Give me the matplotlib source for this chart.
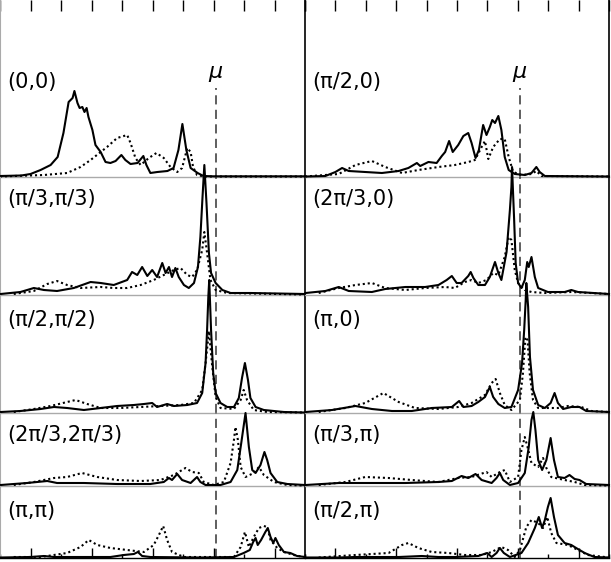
import matplotlib.pyplot as plt
from matplotlib.ticker import MultipleLocator

# spectral weight A(k, w) for ten k points
# pairs are (w, A); solid = full calculation, dotted = comparison
s_00 = [(-7.0, 1), (-6.3, 1.5), (-6.0, 3), (-5.67, 7), (-5.34, 12), (-5.11, 20), (-4.92, 44),
        (-4.75, 75), (-4.62, 79), (-4.56, 86), (-4.46, 74), (-4.39, 69), (-4.30, 70), (-4.23, 65),
        (-4.16, 69), (-4.10, 60), (-3.97, 47), (-3.87, 32), (-3.70, 25), (-3.54, 15), (-3.38, 14),
        (-3.21, 16), (-3.02, 22), (-2.89, 17), (-2.72, 13), (-2.49, 14), (-2.30, 21), (-2.20, 12),
        (-2.07, 4), (-1.84, 5), (-1.51, 6), (-1.31, 9), (-1.15, 27), (-1.02, 53), (-0.89, 27),
        (-0.75, 9), (-0.52, 4), (-0.33, 1), (0.0, 0.7), (3.0, 0.7)]
d_00 = [(-7.0, 0.5), (-5.56, 2), (-4.80, 4), (-4.36, 10), (-4.03, 17), (-3.70, 25), (-3.49, 30),
        (-3.16, 39), (-2.83, 42), (-2.72, 34), (-2.56, 19), (-2.39, 12), (-2.12, 19), (-1.87, 24),
        (-1.63, 19), (-1.41, 10), (-1.19, 5), (-1.03, 9), (-0.86, 29), (-0.75, 25), (-0.67, 10),
        (-0.54, 2), (-0.3, 0.5), (3.0, 0.5)]

s_p20 = [(-7.0, 0.5), (-6.33, 1), (-6.0, 5), (-5.78, 9), (-5.56, 6), (-5.02, 5), (-4.47, 4),
         (-3.92, 6), (-3.60, 9), (-3.32, 14), (-3.21, 11), (-2.94, 15), (-2.67, 14), (-2.50, 21),
         (-2.39, 25), (-2.26, 36), (-2.14, 25), (-1.96, 32), (-1.79, 41), (-1.63, 44), (-1.52, 34),
         (-1.39, 19), (-1.28, 27), (-1.14, 52), (-1.03, 42), (-0.92, 50), (-0.84, 57), (-0.75, 54),
         (-0.64, 61), (-0.54, 47), (-0.43, 20), (-0.30, 7), (-0.10, 3), (0.23, 2), (0.45, 4),
         (0.61, 10), (0.72, 5), (0.89, 1), (3.0, 0.5)]
d_p20 = [(-7.0, 0.5), (-5.89, 3), (-5.34, 12), (-4.80, 16), (-4.36, 10), (-3.81, 4), (-3.27, 7),
         (-2.61, 10), (-2.07, 12), (-1.63, 15), (-1.41, 17), (-1.19, 30), (-1.08, 36), (-0.97, 18),
         (-0.81, 30), (-0.59, 38), (-0.43, 38), (-0.30, 20), (-0.15, 5), (0.12, 2), (0.45, 3),
         (0.61, 6), (0.78, 1), (3.0, 0.5)]

s_p3p3 = [(-6.98, 1), (-6.33, 3), (-5.89, 7), (-5.56, 5), (-5.13, 4), (-4.58, 7), (-4.03, 13),
          (-3.70, 12), (-3.27, 10), (-2.83, 15), (-2.67, 23), (-2.50, 20), (-2.34, 28), (-2.17, 19),
          (-2.01, 25), (-1.85, 18), (-1.68, 32), (-1.57, 22), (-1.46, 28), (-1.36, 18), (-1.25, 27),
          (-1.14, 18), (-0.97, 10), (-0.81, 7), (-0.64, 12), (-0.51, 28), (-0.43, 58), (-0.36, 98),
          (-0.30, 130), (-0.23, 92), (-0.15, 42), (-0.08, 22), (0.07, 12), (0.29, 5), (0.56, 2),
          (1.21, 2), (3.0, 1)]
d_p3p3 = [(-6.55, 1), (-5.89, 4), (-5.45, 11), (-5.13, 14), (-4.80, 10), (-4.36, 7), (-3.70, 8),
          (-3.27, 7), (-2.83, 7), (-2.39, 10), (-1.96, 15), (-1.63, 20), (-1.30, 25), (-1.08, 27),
          (-0.86, 20), (-0.70, 18), (-0.54, 25), (-0.37, 45), (-0.30, 63), (-0.21, 42), (-0.10, 15),
          (0.07, 5), (0.45, 2), (3.0, 0.5)]

s_2p30 = [(-6.98, 2), (-6.33, 4), (-5.89, 8), (-5.56, 4), (-4.80, 3), (-4.36, 6), (-3.70, 8),
          (-3.05, 8), (-2.61, 10), (-2.34, 15), (-2.17, 19), (-2.01, 12), (-1.85, 12), (-1.63, 19),
          (-1.55, 23), (-1.46, 17), (-1.30, 10), (-1.08, 10), (-0.92, 18), (-0.75, 33), (-0.64, 22),
          (-0.54, 15), (-0.37, 43), (-0.26, 85), (-0.21, 108), (-0.19, 128), (-0.12, 75),
          (-0.07, 32), (0.01, 12), (0.12, 7), (0.23, 15), (0.31, 33), (0.36, 28), (0.45, 38),
          (0.56, 18), (0.67, 7), (0.99, 3), (1.54, 3), (1.76, 5), (1.98, 3), (3.0, 1)]
d_2p30 = [(-6.55, 2), (-5.89, 7), (-5.34, 10), (-4.80, 12), (-4.36, 7), (-3.70, 5), (-3.05, 7),
          (-2.39, 8), (-2.07, 7), (-1.74, 13), (-1.52, 15), (-1.30, 12), (-1.03, 15), (-0.81, 22),
          (-0.64, 20), (-0.43, 38), (-0.30, 58), (-0.21, 55), (-0.10, 25), (0.01, 12), (0.23, 5),
          (0.45, 3), (0.89, 2), (1.76, 3), (3.0, 1)]

s_p2p2 = [(-6.98, 1), (-6.33, 2), (-5.67, 4), (-5.23, 6), (-4.80, 5), (-4.25, 3), (-3.70, 5),
          (-3.16, 7), (-2.61, 8), (-2.28, 9), (-2.01, 10), (-1.85, 6), (-1.52, 9), (-1.30, 7),
          (-0.86, 8), (-0.54, 10), (-0.37, 20), (-0.26, 50), (-0.21, 83), (-0.17, 116), (-0.14, 133),
          (-0.08, 83), (-0.01, 40), (0.07, 20), (0.23, 10), (0.45, 6), (0.67, 6), (0.83, 15),
          (0.94, 36), (1.03, 50), (1.13, 33), (1.21, 15), (1.38, 6), (1.65, 3), (2.31, 1), (3.0, 0.5)]
d_p2p2 = [(-6.55, 1), (-5.89, 4), (-5.34, 7), (-4.80, 11), (-4.52, 13), (-4.14, 9), (-3.70, 5),
          (-3.05, 5), (-2.39, 6), (-1.74, 7), (-1.08, 8), (-0.64, 10), (-0.37, 23), (-0.26, 50),
          (-0.19, 70), (-0.15, 82), (-0.04, 46), (0.07, 16), (0.23, 5), (0.67, 4), (0.89, 13),
          (0.99, 23), (1.10, 13), (1.32, 3), (1.76, 1), (3.0, 0.5)]

s_p0 = [(-6.98, 1), (-6.11, 3), (-5.34, 7), (-4.80, 4), (-4.14, 2), (-3.49, 2), (-2.83, 5),
        (-2.17, 6), (-1.93, 12), (-1.79, 6), (-1.52, 7), (-1.30, 11), (-1.08, 16), (-0.92, 26),
        (-0.81, 16), (-0.64, 9), (-0.43, 5), (-0.21, 6), (0.01, 23), (0.14, 50), (0.21, 83),
        (0.26, 113), (0.28, 130), (0.34, 106), (0.40, 56), (0.50, 23), (0.67, 8), (0.89, 5),
        (1.08, 10), (1.21, 20), (1.32, 10), (1.49, 4), (1.76, 6), (2.03, 6), (2.25, 2), (3.0, 1)]
d_p0 = [(-6.55, 1), (-5.67, 5), (-5.02, 10), (-4.42, 20), (-3.92, 11), (-3.38, 5), (-2.61, 4),
        (-1.96, 6), (-1.52, 10), (-1.08, 18), (-0.86, 30), (-0.73, 34), (-0.59, 20), (-0.43, 8),
        (-0.21, 3), (0.07, 13), (0.17, 40), (0.25, 76), (0.32, 73), (0.39, 40), (0.50, 13),
        (0.67, 5), (1.10, 5), (1.32, 5), (1.65, 7), (2.09, 6), (2.42, 2), (3.0, 1)]

s_2p32p3 = [(-6.98, 1), (-6.11, 3), (-5.45, 5), (-5.13, 3), (-4.25, 3), (-3.16, 2), (-2.07, 2),
            (-1.63, 4), (-1.46, 8), (-1.36, 6), (-1.19, 12), (-1.03, 6), (-0.75, 3), (-0.54, 9),
            (-0.43, 4), (-0.26, 1), (0.23, 1), (0.56, 4), (0.78, 16), (0.91, 43), (1.05, 73),
            (1.16, 39), (1.27, 16), (1.38, 13), (1.54, 21), (1.67, 34), (1.76, 26), (1.87, 13),
            (2.09, 4), (2.42, 2), (3.0, 1)]
d_2p32p3 = [(-6.55, 1), (-5.89, 4), (-5.23, 8), (-4.80, 9), (-4.31, 13), (-3.81, 9), (-3.16, 6),
            (-2.39, 5), (-1.74, 6), (-1.30, 11), (-0.92, 18), (-0.70, 14), (-0.48, 13), (-0.32, 4),
            (0.01, 1), (0.34, 4), (0.56, 23), (0.67, 46), (0.72, 59), (0.80, 46), (0.89, 19),
            (1.05, 9), (1.32, 13), (1.49, 19), (1.65, 11), (1.98, 4), (2.42, 1), (3.0, 0.5)]

s_p3p = [(-6.98, 1), (-5.89, 3), (-4.80, 3), (-3.70, 3), (-2.61, 4), (-2.17, 5), (-1.85, 10),
         (-1.63, 8), (-1.39, 12), (-1.19, 6), (-0.86, 3), (-0.70, 8), (-0.59, 13), (-0.48, 6),
         (-0.26, 1), (0.01, 3), (0.23, 13), (0.36, 39), (0.45, 66), (0.51, 74), (0.58, 56),
         (0.67, 26), (0.80, 16), (0.94, 26), (1.08, 48), (1.19, 26), (1.32, 9), (1.54, 8),
         (1.70, 11), (1.87, 7), (2.03, 6), (2.25, 2), (3.0, 1)]
d_p3p = [(-6.55, 1), (-5.67, 4), (-5.02, 9), (-4.25, 8), (-3.49, 6), (-2.61, 4), (-1.96, 8),
         (-1.52, 9), (-1.03, 14), (-0.86, 9), (-0.59, 14), (-0.43, 16), (-0.26, 4), (0.01, 9),
         (0.12, 36), (0.23, 49), (0.32, 39), (0.45, 23), (0.67, 19), (0.83, 28), (0.94, 18),
         (1.10, 9), (1.54, 6), (1.87, 4), (2.20, 1), (3.0, 0.5)]

s_pp = [(-6.98, 0.5), (-6.0, 1), (-5.56, 2), (-5.23, 1), (-4.25, 1), (-3.38, 1), (-2.94, 3),
        (-2.61, 4), (-2.48, 6), (-2.34, 2), (-2.07, 1), (-0.43, 0.5), (0.67, 1), (0.99, 5),
        (1.19, 8), (1.30, 16), (1.38, 20), (1.45, 13), (1.56, 18), (1.70, 26), (1.78, 30),
        (1.87, 21), (1.96, 15), (2.03, 20), (2.14, 13), (2.31, 6), (2.52, 5), (2.74, 2), (3.0, 1)]
d_pp = [(-6.55, 1), (-5.67, 1), (-4.80, 5), (-4.36, 11), (-4.09, 18), (-3.81, 13), (-3.38, 10),
        (-2.83, 8), (-2.28, 6), (-1.96, 13), (-1.79, 23), (-1.65, 32), (-1.52, 18), (-1.36, 6),
        (-0.97, 1), (0.67, 1), (0.89, 11), (1.03, 26), (1.16, 11), (1.32, 21), (1.49, 30),
        (1.65, 32), (1.76, 31), (1.87, 18), (2.09, 10), (2.31, 6), (2.63, 3), (2.96, 1)]

s_p2p = [(-6.98, 0.5), (-5.89, 0.5), (-5.34, 1), (-4.80, 1), (-3.92, 1), (-3.16, 2), (-2.61, 1),
         (-2.07, 1), (-1.30, 2), (-1.01, 5), (-0.86, 1), (-0.70, 5), (-0.59, 10), (-0.46, 5),
         (-0.26, 1), (0.12, 5), (0.34, 15), (0.56, 30), (0.69, 41), (0.80, 30), (0.89, 38),
         (0.99, 51), (1.08, 60), (1.19, 41), (1.32, 23), (1.54, 15), (1.76, 13), (1.92, 10),
         (2.20, 5), (2.52, 1), (3.0, 0.5)]
d_p2p = [(-6.55, 0.5), (-5.34, 3), (-4.25, 5), (-3.81, 13), (-3.60, 15), (-3.27, 10), (-2.83, 6),
         (-2.28, 5), (-1.74, 3), (-1.19, 3), (-0.86, 6), (-0.54, 11), (-0.32, 8), (-0.10, 1),
         (0.07, 8), (0.28, 31), (0.45, 38), (0.67, 35), (0.83, 30), (0.97, 41), (1.10, 25),
         (1.27, 15), (1.65, 13), (1.98, 8), (2.31, 3), (3.0, 0.5)]

left_labels = ['(0,0)', '(π/3,π/3)', '(π/2,π/2)', '(2π/3,2π/3)', '(π,π)']
right_labels = ['(π/2,0)', '(2π/3,0)', '(π,0)', '(π/3,π)', '(π/2,π)']
left_solid = [s_00, s_p3p3, s_p2p2, s_2p32p3, s_pp]
left_dotted = [d_00, d_p3p3, d_p2p2, d_2p32p3, d_pp]
right_solid = [s_p20, s_2p30, s_p0, s_p3p, s_p2p]
right_dotted = [d_p20, d_2p30, d_p0, d_p3p, d_p2p]
ymax = [177, 118, 118, 73, 72]
mu = 0.07

# layout in pixels
W, H = 611, 562
row_edges = [0, 177, 295, 413, 486, 558]
col_x = [(0, 305), (305, 304)]
label_y = [0.537, 0.81, 0.79, 0.70, 0.65]

fig = plt.figure(figsize=(W / 100, H / 100), dpi=100)

for c in range(2):
    labels = left_labels if c == 0 else right_labels
    solids = left_solid if c == 0 else right_solid
    dots = left_dotted if c == 0 else right_dotted
    x0, w = col_x[c]
    for r in range(5):
        y0, y1 = row_edges[r], row_edges[r + 1]
        ax = fig.add_axes([x0 / W, 1 - y1 / H, w / W, (y1 - y0) / H])
        ax.set_xlim(-7, 3)
        ax.set_ylim(0, ymax[r])
        ax.patch.set_alpha(0)

        ws, a_s = zip(*solids[r])
        wd, a_d = zip(*dots[r])
        ax.plot(wd, a_d, color='black', lw=1.5, linestyle=(0, (1, 1.4)), clip_on=False, zorder=3)
        ax.plot(ws, a_s, color='black', lw=1.5, clip_on=False, zorder=4)

        if r == 0:
            ax.axvline(mu, ymax=0.50, color='#333333', lw=1.1, dashes=(6, 3.5), zorder=1)
            ax.text(mu, 0.58, r'$\mu$', transform=ax.get_xaxis_transform(),
                    ha='center', va='center', fontsize=16)
        else:
            ax.axvline(mu, color='#333333', lw=1.1, dashes=(6, 3.5), zorder=1)

        ax.text(0.023, label_y[r], labels[r], transform=ax.transAxes,
                ha='left', va='center', fontsize=15)

        ax.set_yticks([])
        ax.xaxis.set_major_locator(MultipleLocator(2))
        ax.xaxis.set_minor_locator(MultipleLocator(1))
        ax.tick_params(labelbottom=False, labeltop=False)
        if r == 0:
            ax.tick_params(which='both', top=True, bottom=False, direction='in',
                           length=8, width=1)
        elif r == 4:
            ax.tick_params(which='major', top=False, bottom=True, direction='in',
                           length=7, width=1)
            ax.tick_params(which='minor', top=False, bottom=True, direction='in',
                           length=3, width=1)
        else:
            ax.tick_params(which='both', top=False, bottom=False)

        ax.spines['top'].set_visible(False)
        ax.spines['bottom'].set_color('black' if r == 4 else '#aaaaaa')
        ax.spines['bottom'].set_linewidth(1)
        if c == 0:
            ax.spines['left'].set_color('#aaaaaa')
            ax.spines['right'].set_color('black')
        else:
            ax.spines['left'].set_visible(False)
            ax.spines['right'].set_color('black')
        ax.spines['right'].set_linewidth(1.2)

fig.savefig('out.png', dpi=100)
